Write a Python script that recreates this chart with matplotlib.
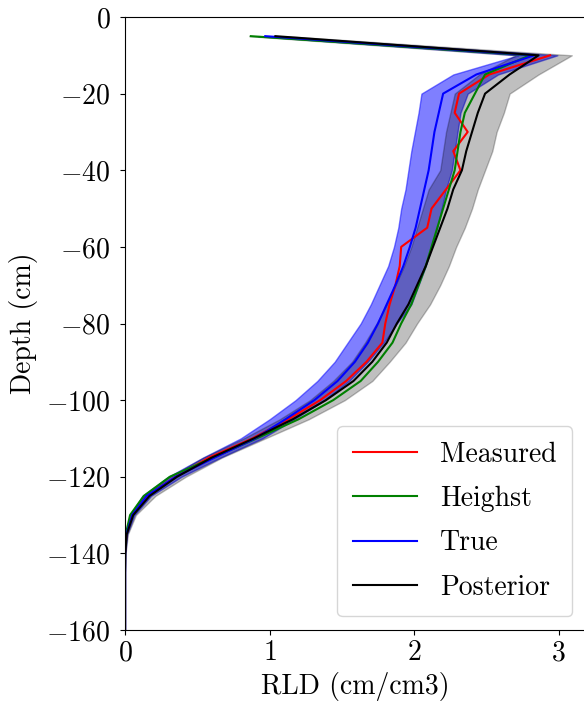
import numpy as np
import matplotlib
matplotlib.use("Agg")
import matplotlib.pyplot as plt

plt.rcParams['font.family'] = ['cmr10']
plt.rcParams['mathtext.fontset'] = 'cm'
plt.rcParams['axes.formatter.use_mathtext'] = True
plt.rcParams['font.size'] = 20

depth = [-5, -10, -15, -20, -25, -30, -35, -40, -45, -50, -55, -60, -65, -70, -75, -80,
         -85, -90, -95, -100, -105, -110, -115, -120, -125, -130, -135, -140, -145, -150,
         -155, -160]

measured = [np.nan, 2.94, 2.52, 2.31, 2.28, 2.37, 2.27, 2.32, 2.22, 2.12, 2.09, 1.91, 1.90,
            1.87, 1.83, 1.80, 1.78, 1.67, 1.53, 1.35, 1.13, 0.88, 0.58, 0.35, 0.15, 0.05,
            0.01, 0.0, 0.0, 0.0, 0.0, 0.0]
heighst = [0.87, 2.80, 2.49, 2.42, 2.35, 2.32, 2.30, 2.28, 2.24, 2.20, 2.16, 2.12, 2.08,
           2.03, 1.98, 1.91, 1.85, 1.75, 1.63, 1.44, 1.20, 0.91, 0.61, 0.31, 0.13, 0.035,
           0.005, 0.0, 0.0, 0.0, 0.0, 0.0]
true = [0.97, 2.83, 2.43, 2.20, 2.17, 2.14, 2.12, 2.10, 2.07, 2.04, 2.01, 1.97, 1.925,
        1.87, 1.81, 1.75, 1.68, 1.59, 1.47, 1.31, 1.11, 0.90, 0.62, 0.35, 0.15, 0.05,
        0.01, 0.0, 0.0, 0.0, 0.0, 0.0]
posterior = [1.04, 2.86, 2.66, 2.49, 2.44, 2.40, 2.36, 2.33, 2.27, 2.23, 2.18, 2.13, 2.08,
             2.02, 1.96, 1.88, 1.81, 1.71, 1.58, 1.39, 1.16, 0.89, 0.60, 0.36, 0.17, 0.057,
             0.012, 0.002, 0.0, 0.0, 0.0, 0.0]

true_lo = [0.92, 2.72, 2.27, 2.05, 2.03, 2.005, 1.98, 1.96, 1.94, 1.91, 1.89, 1.86, 1.82,
           1.76, 1.70, 1.63, 1.54, 1.45, 1.33, 1.18, 1.00, 0.80, 0.54, 0.30, 0.12, 0.035,
           0.005, 0.0, 0.0, 0.0, 0.0, 0.0]
true_hi = [1.02, 2.99, 2.58, 2.37, 2.32, 2.30, 2.28, 2.26, 2.22, 2.19, 2.16, 2.12, 2.08,
           2.03, 1.98, 1.88, 1.79, 1.68, 1.55, 1.38, 1.17, 0.95, 0.66, 0.39, 0.18, 0.065,
           0.015, 0.002, 0.0, 0.0, 0.0, 0.0]
post_lo = [0.86, 2.70, 2.45, 2.28, 2.25, 2.22, 2.20, 2.18, 2.10, 2.06, 2.02, 1.98, 1.93,
           1.87, 1.81, 1.74, 1.66, 1.57, 1.44, 1.28, 1.07, 0.82, 0.54, 0.31, 0.13, 0.04,
           0.005, 0.0, 0.0, 0.0, 0.0, 0.0]
post_hi = [1.12, 3.09, 2.86, 2.66, 2.62, 2.57, 2.54, 2.49, 2.44, 2.40, 2.35, 2.29, 2.24,
           2.18, 2.11, 2.02, 1.94, 1.83, 1.71, 1.52, 1.27, 0.97, 0.67, 0.42, 0.21, 0.075,
           0.02, 0.004, 0.0, 0.0, 0.0, 0.0]

xticks = [0, 1, 2, 3]
yticks = [0, -20, -40, -60, -80, -100, -120, -140, -160]

fig = plt.figure(figsize=(5.84, 7.10), dpi=100)
ax = fig.add_axes([125 / 584, 80 / 710, 461 / 584, 613 / 710])

ax.fill_betweenx(depth, true_lo, true_hi, color='b', alpha=0.5)
ax.fill_betweenx(depth, post_lo, post_hi, color='k', alpha=0.25)
ax.plot(measured, depth, color='r', lw=1.5, label='Measured')
ax.plot(heighst, depth, color='g', lw=1.5, label='Heighst')
ax.plot(true, depth, color='b', lw=1.5, label='True')
ax.plot(posterior, depth, color='k', lw=1.5, label='Posterior')

ax.set_xlim(0, 461 / 144.6)
ax.set_ylim(-160, 0)
ax.set_xticks(xticks)
ax.set_yticks(yticks)
ax.tick_params(axis='y', pad=7)
ax.set_xlabel('RLD (cm/cm3)')
ax.set_ylabel('Depth (cm)', labelpad=6)
ax.legend(loc='lower right', handlelength=2.3, labelspacing=0.65, borderpad=0.55,
          handletextpad=0.85)

fig.savefig('out.png', dpi=100)
